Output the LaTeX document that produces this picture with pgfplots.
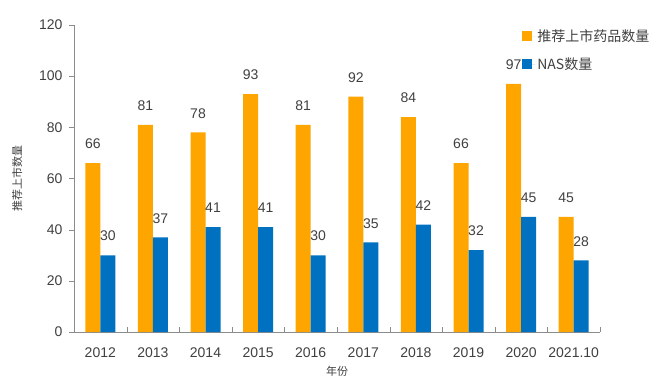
\documentclass[border=0pt]{standalone}
\usepackage{pgfplots}
\pgfplotsset{compat=1.18}
\usepackage{fontspec}
\setmainfont{Liberation Sans}
\newfontfamily\cjk{Noto Sans CJK SC}
\definecolor{orng}{HTML}{FFA500}
\definecolor{blu}{HTML}{0070C0}
\definecolor{axgray}{HTML}{8C8C8C}
\definecolor{txt}{HTML}{404040}
\begin{document}
\begin{tikzpicture}[x=1pt,y=1pt]
\useasboundingbox (0,0) rectangle (668,380);
\begin{axis}[
  at={(74pt,48pt)}, anchor=south west,
  scale only axis, width=526pt, height=307pt,
  ymin=0, ymax=120, ytick={0,20,...,120},
  xmin=-0.5, xmax=9.5,
  xtick={0,...,9},
  xticklabels={2012,2013,2014,2015,2016,2017,2018,2019,2020,2021.10},
  minor xtick={-0.5,0.5,...,9.5},
  axis lines*=left,
  axis line style={draw=axgray},
  tick align=outside,
  major tick length=5pt,
  minor tick length=5pt,
  major x tick style={draw=none},
  minor x tick style={draw=axgray, yshift=5pt},
  ytick style={draw=axgray},
  tick label style={font=\fontsize{14}{16}\selectfont, text=txt},
  /pgf/number format/assume math mode=true,
  xticklabel style={yshift=-7pt},
  yticklabel style={xshift=-3pt},
  ylabel={\cjk 推荐上市数量},
  ylabel style={at={(axis description cs:-0.108,0.5)}, anchor=center, font=\fontsize{11}{13}\selectfont, text=txt},
  xlabel={\cjk 年份},
  xlabel style={at={(axis description cs:0.5,-0.127)}, anchor=center, font=\fontsize{11}{13}\selectfont, text=txt},
  legend style={at={(axis description cs:0.852,0.993)}, anchor=north west, draw=none, fill=none,
    font=\cjk\fontsize{14}{16}\selectfont, text=txt, row sep=11pt, inner sep=0pt},
  legend cell align=left,
  legend image code/.code={\fill[#1] (0pt,-5pt) rectangle (10pt,5pt); \path (0pt,0pt) -- (13pt,0pt);},
  nodes near coords,
  every node near coord/.append style={font=\fontsize{14}{16}\selectfont, text=txt, inner sep=0pt, yshift=14pt},
  clip=false,
]
\addplot[ybar, fill=orng, draw=none, bar width=15pt, bar shift=-7.5pt,
  every node near coord/.append style={xshift=-7.5pt}] coordinates {
  (0,66) (1,81) (2,78) (3,93) (4,81) (5,92) (6,84) (7,66) (8,97) (9,45)};
\addlegendentry{推荐上市药品数量}
\addplot[ybar, fill=blu, draw=none, bar width=15pt, bar shift=7.5pt,
  every node near coord/.append style={xshift=7.5pt}] coordinates {
  (0,30) (1,37) (2,41) (3,41) (4,30) (5,35) (6,42) (7,32) (8,45) (9,28)};
\addlegendentry{NAS数量}
\end{axis}
\end{tikzpicture}
\end{document}
